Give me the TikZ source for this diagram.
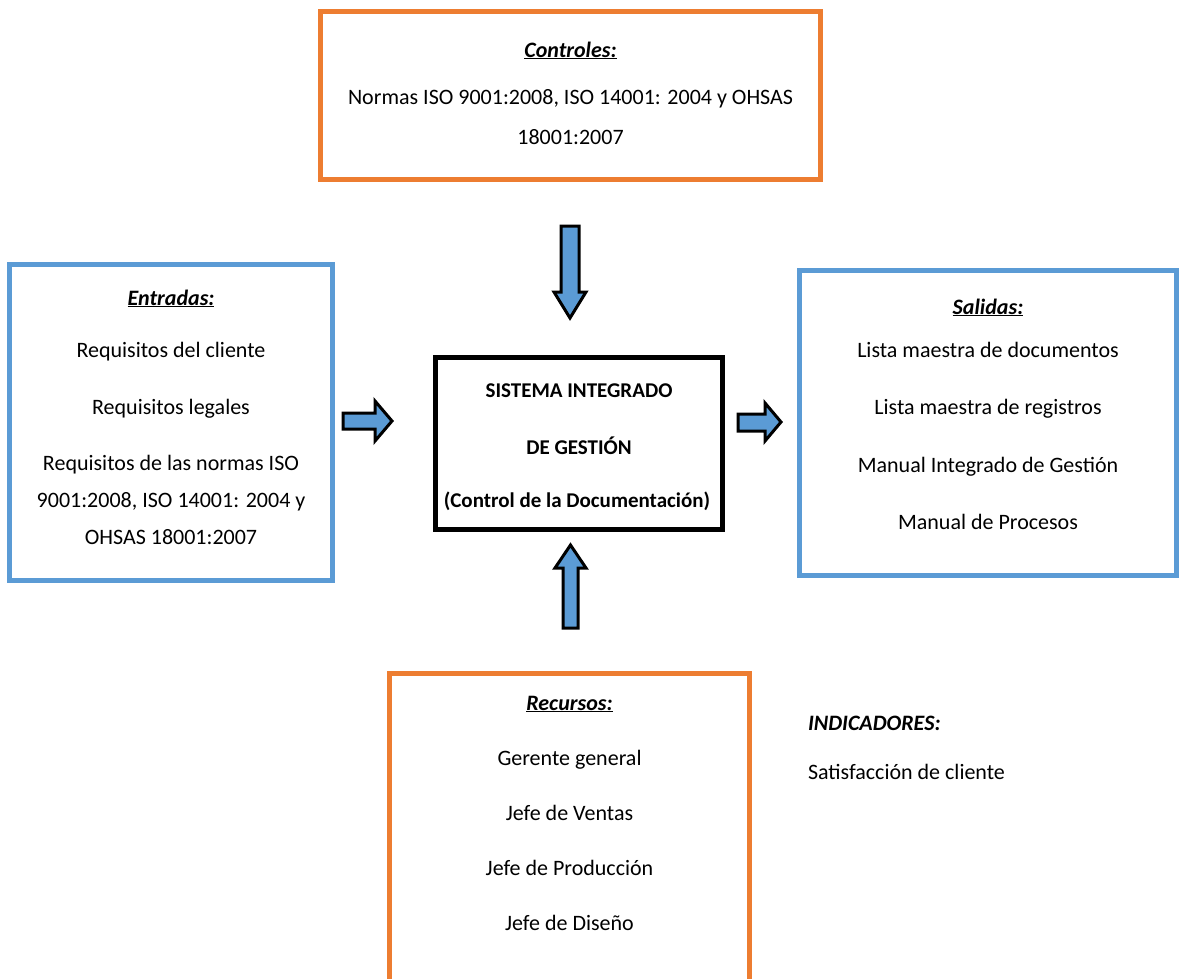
\documentclass[tikz,border=0pt]{standalone}
\usepackage{fontspec}
\setmainfont{Carlito}
\definecolor{frameorange}{HTML}{ED7D31}
\definecolor{frameblue}{HTML}{5B9BD5}
\definecolor{arrowfill}{HTML}{5B9BD5}
\begin{document}
\begin{tikzpicture}[x=1pt,y=-1pt,
  every node/.style={font=\fontsize{22}{26}\selectfont, inner sep=0pt, outer sep=0pt},
  panel/.style={draw, line width=5pt, rectangle, fill=white},
  txt/.style={anchor=base},
  head/.style={anchor=base, font=\fontsize{22}{26}\selectfont\bfseries\itshape},
  systxt/.style={anchor=base, font=\fontsize{21}{25}\selectfont\bfseries},
  blockarrow/.style={draw=black, fill=arrowfill, line width=3pt, line join=miter}]
\useasboundingbox (0,0) rectangle (1181,978);
\fill[white] (0,0) rectangle (1181,978);

% frames
\node[panel, draw=frameorange, minimum width=500pt, minimum height=168pt] (ctrl) at (570.5,95.5) {};
\node[panel, draw=frameblue, minimum width=323pt, minimum height=316pt] (inp) at (171,422.5) {};
\node[panel, draw=frameblue, minimum width=377pt, minimum height=305pt] (outp) at (988,423) {};
\node[panel, draw=black, minimum width=287pt, minimum height=172pt] (sys) at (579,443.5) {};
\node[panel, draw=frameorange, minimum width=360pt, minimum height=337pt] (res) at (569.5,842) {};

% controls
\node[head] (ctrl-h) at (570.5,57) {\underline{Controles:}};
\node[txt] (ctrl-1) at (570.5,104) {Normas ISO 9001:2008, ISO 14001: 2004 y OHSAS};
\node[txt] (ctrl-2) at (570.5,144) {18001:2007};

% inputs
\node[head] (inp-h) at (171,305) {\underline{Entradas:}};
\node[txt] (inp-1) at (171,357) {Requisitos del cliente};
\node[txt] (inp-2) at (171,414) {Requisitos legales};
\node[txt] (inp-3) at (171,470) {Requisitos de las normas ISO};
\node[txt] (inp-4) at (171,507) {9001:2008, ISO 14001: 2004 y};
\node[txt] (inp-5) at (171,544) {OHSAS 18001:2007};

% outputs
\node[head] (out-h) at (988,314) {\underline{Salidas:}};
\node[txt] (out-1) at (988,357) {Lista maestra de documentos};
\node[txt] (out-2) at (988,414) {Lista maestra de registros};
\node[txt] (out-3) at (988,472) {Manual Integrado de Gestión};
\node[txt] (out-4) at (988,529) {Manual de Procesos};

% central process
\node[systxt] (sys-1) at (579,397) {SISTEMA INTEGRADO};
\node[systxt] (sys-2) at (579,454) {DE GESTIÓN};
\node[systxt] (sys-3) at (577,507) {(Control de la Documentación)};

% resources
\node[head] (res-h) at (569.5,710) {\underline{Recursos:}};
\node[txt] (res-1) at (569.5,765) {Gerente general};
\node[txt] (res-2) at (569.5,820) {Jefe de Ventas};
\node[txt] (res-3) at (569.5,875) {Jefe de Producción};
\node[txt] (res-4) at (569.5,930) {Jefe de Diseño};

% indicators
\node[head, anchor=base west] (ind-h) at (808,730) {INDICADORES:};
\node[txt, anchor=base west] (ind-1) at (808,779) {Satisfacción de cliente};

% block arrows
\draw[blockarrow] (561,226) -- (579,226) -- (579,292) -- (586,292) -- (570,318)
  -- (554,292) -- (561,292) -- cycle;
\draw[blockarrow] (563,628) -- (578,628) -- (578,568) -- (586,568) -- (570.5,545)
  -- (555,568) -- (563,568) -- cycle;
\draw[blockarrow] (343,413) -- (375,413) -- (375,401) -- (392,421) -- (375,441)
  -- (375,429) -- (343,429) -- cycle;
\draw[blockarrow] (738,414) -- (765,414) -- (765,403) -- (781,422) -- (765,441)
  -- (765,431) -- (738,431) -- cycle;
\end{tikzpicture}
\end{document}
